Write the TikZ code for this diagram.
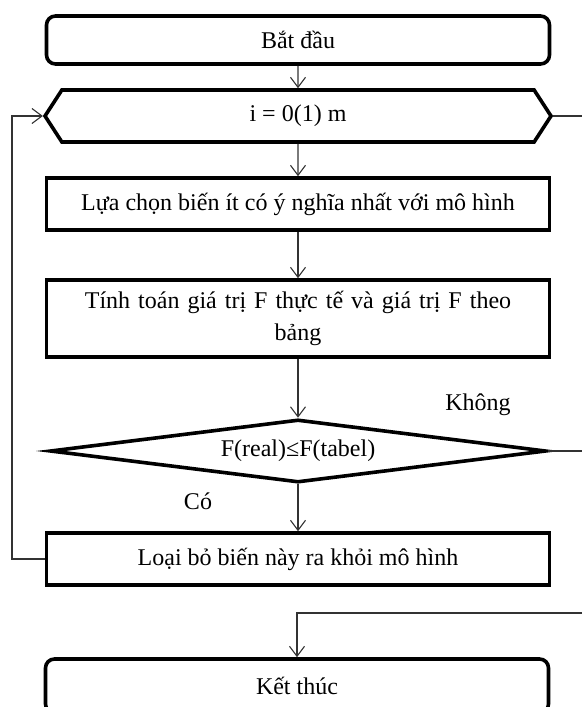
\documentclass[tikz,border=0pt]{standalone}
\usepackage{fontspec}
\setmainfont{Liberation Serif}
\usetikzlibrary{arrows.meta,shapes.geometric,shapes.symbols}
\tikzset{
  box/.style={draw=black, line width=3.6pt, minimum width=503pt, inner sep=0pt, align=center,
              font=\fontsize{24}{32}\selectfont},
  roundbox/.style={box, rounded corners=9pt},
  conn/.style={draw=black!80, line width=1.1pt, -{Straight Barb[length=10pt,width=15pt,line width=1.1pt]}},
  plain/.style={draw=black!80, line width=1.1pt},
  lbl/.style={font=\fontsize{24}{32}\selectfont, inner sep=0pt},
}
\begin{document}
\begin{tikzpicture}[x=1pt,y=-1pt]
\useasboundingbox (0,0) rectangle (582,707);
\clip (0,0) rectangle (582,707);

\node[roundbox, minimum height=48pt] (start) at (298,40) {Bắt đầu};
\node[box, signal, signal to=west and east, signal pointer angle=114,
      minimum width=506pt, minimum height=52pt] (hex) at (298,116) {i = 0(1) m};
\node[box, minimum height=52pt] (choose) at (298,204) {Lựa chọn biến ít có ý nghĩa nhất với mô hình};
\node[box, minimum height=77pt, text width=480pt] (calc) at (298,318.5)
  {Tính toán giá trị F thực tế và giá trị F theo\\bảng};
\node[box, diamond, aspect=7.9, minimum width=496pt, minimum height=63pt] (test) at (298,451) {F(real)≤F(tabel)};
\node[box, minimum height=52pt] (remove) at (298,559) {Loại bỏ biến này ra khỏi mô hình};
\node[roundbox, minimum height=54pt] (stop) at (297,686) {Kết thúc};

\node[lbl] (no) at (478,405) {Không};
\node[lbl] (yes) at (198,501) {Có};

\coordinate (exitA) at (582,116);
\coordinate (exitB) at (582,451);
\coordinate (exitC) at (582,613);
\coordinate (loopx) at (12,0);

\draw[conn] (start) -- (hex);
\draw[conn] (hex) -- (choose);
\draw[conn] (choose) -- (calc);
\draw[conn] (calc) -- (test);
\draw[conn] (test) -- (remove);
\draw[conn] (remove.west) -- (remove.west -| loopx) |- (hex.west);
\draw[plain] (hex.east) -- (exitA);
\draw[plain] (test.east) -- (exitB);
\draw[conn] (exitC) -| (stop.north);
\end{tikzpicture}
\end{document}
